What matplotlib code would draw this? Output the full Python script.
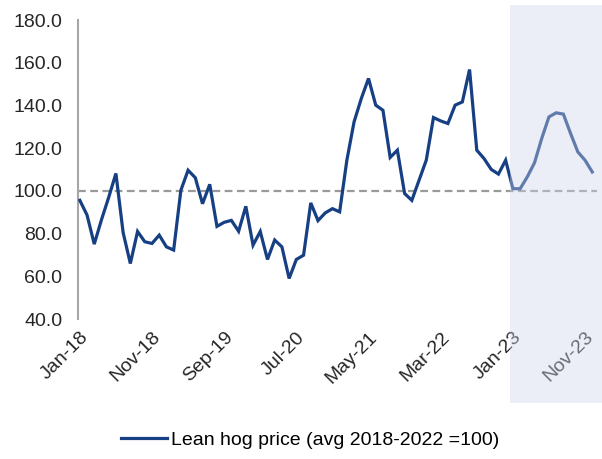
import numpy as np
import matplotlib
matplotlib.use('Agg')
import matplotlib.pyplot as plt

plt.rcParams['font.family'] = ['Liberation Sans', 'DejaVu Sans']

# monthly index, Jan-18 .. Dec-23 (2023 is the forecast part)
hog_price = [95.6, 88.7, 75.1, 86.5, 97.0, 108.2, 80.5, 66.0, 81.0, 76.2, 75.4, 79.3,
             73.8, 72.3, 100.3, 109.7, 106.2, 94.0, 103.1, 83.4, 85.3, 86.2, 81.1, 92.8,
             74.6, 81.0, 67.9, 77.0, 73.8, 59.0, 67.9, 69.9, 94.4, 86.1, 89.7, 91.7,
             90.2, 114.4, 132.4, 143.3, 152.7, 140.2, 137.8, 115.7, 119.1, 98.8, 95.6, 105.0,
             114.4, 134.4, 132.8, 131.6, 140.2, 141.7, 156.9, 119.1, 115.2, 110.1, 107.9, 114.4,
             101.1, 101.0, 106.6, 113.2, 124.6, 134.7, 136.6, 136.0, 126.9, 118.3, 114.4, 108.9]
tick_pos = [0, 10, 20, 30, 40, 50, 60, 70]
tick_labels = ['Jan-18', 'Nov-18', 'Sep-19', 'Jul-20', 'May-21', 'Mar-22', 'Jan-23', 'Nov-23']
forecast_start = 59.6
baseline = 100

x = np.arange(len(hog_price))

fig = plt.figure(figsize=(6.02, 4.59), dpi=100)
ax = fig.add_axes([0.129, 0.305, 0.862, 0.651])

ax.plot(x, hog_price, color='#173f83', lw=2.3, solid_joinstyle='miter',
        label='Lean hog price (avg 2018-2022 =100)', zorder=3)
ax.axhline(baseline, color='#9a9a9a', lw=1.6, dashes=(3.5, 2), zorder=2)

ax.set_xlim(-0.3, 71.6)
ax.set_ylim(40, 180)
ax.set_yticks(np.arange(40, 181, 20))
ax.set_yticklabels(['%.1f' % v for v in np.arange(40, 181, 20)])
ax.set_xticks(tick_pos)
ax.set_xticklabels(tick_labels, rotation=45, ha='right', rotation_mode='anchor')

for s in ['top', 'right', 'bottom']:
    ax.spines[s].set_visible(False)
ax.spines['left'].set_color('#a6a6a6')
ax.spines['left'].set_linewidth(1.5)
ax.tick_params(axis='both', length=0, labelsize=14, colors='#262626')
ax.tick_params(axis='y', pad=11)
ax.tick_params(axis='x', pad=7)

# translucent shade over the forecast year, also fades line and labels
ax.axvspan(forecast_start, 73, ymin=-0.281, ymax=1.05, facecolor='#d1d6ec',
           alpha=0.4, edgecolor='none', clip_on=False, zorder=10)

fig.legend(loc='center', bbox_to_anchor=(0.515, 0.042), frameon=False,
           fontsize=14, handlelength=2.4, handletextpad=0.2)

fig.savefig('out.png', dpi=100)
